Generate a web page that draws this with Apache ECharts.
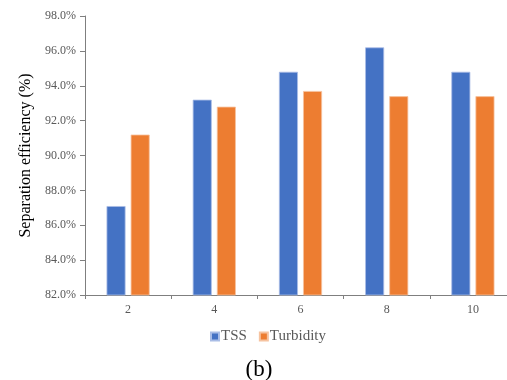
<!DOCTYPE html>
<html>
<head>
<meta charset="utf-8">
<script src="https://cdn.jsdelivr.net/npm/echarts@6/dist/echarts.min.js"></script>
<style>
  html, body { margin: 0; padding: 0; background: #fff; overflow: hidden; }
  /* 原图右侧被裁掉一截，画布比窗口稍宽 */
  #chart { width: 516px; height: 380px; }
</style>
</head>
<body>
<div id="chart"></div>
<script>
// 数据
const categories = ['2', '4', '6', '8', '10'];
const tssValues = [87.1, 93.2, 94.8, 96.2, 94.8];
const turbidityValues = [91.2, 92.8, 93.7, 93.4, 93.4];

const font = 'Liberation Serif';
const grayText = '#595959';

const myChart = echarts.init(document.getElementById('chart'));

const option = {
  backgroundColor: '#fff',
  animation: false,
  textStyle: { fontFamily: font },
  title: {
    text: '(b)',
    left: 254,
    top: 353,
    textAlign: 'center',
    textStyle: { fontFamily: font, fontSize: 23, fontWeight: 'normal', color: '#000' },
  },
  legend: {
    data: ['TSS', 'Turbidity'],
    left: 205,
    top: 324,
    itemWidth: 8,
    itemHeight: 8,
    itemGap: 12,
    icon: 'rect',
    textStyle: { fontFamily: font, fontSize: 15, color: grayText, padding: [0, 0, 0, -3] },
  },
  grid: {
    left: 85,
    top: 16,
    bottom: 85,
    right: 0,
    containLabel: false,
  },
  xAxis: {
    type: 'category',
    data: categories,
    axisLine: { lineStyle: { color: '#7f7f7f', width: 1 } },
    axisTick: { show: true, length: 4, lineStyle: { color: '#7f7f7f' } },
    axisLabel: { fontFamily: font, fontSize: 12, color: grayText, margin: 9 },
  },
  yAxis: {
    type: 'value',
    min: 82,
    max: 98,
    interval: 2,
    name: 'Separation efficiency (%)',
    nameLocation: 'middle',
    nameGap: 50,
    nameTextStyle: { fontFamily: font, fontSize: 16, color: '#000' },
    axisLine: { show: true, lineStyle: { color: '#7f7f7f', width: 1 } },
    axisTick: { show: true, length: 5, lineStyle: { color: '#7f7f7f' } },
    splitLine: { show: false },
    axisLabel: {
      fontFamily: font,
      fontSize: 12,
      color: grayText,
      margin: 9,
      formatter: (v) => v.toFixed(1) + '%',
    },
  },
  series: [
    {
      name: 'TSS',
      type: 'bar',
      data: tssValues,
      barWidth: 19,
      barGap: '27%',
      itemStyle: { color: '#4472C4', borderColor: '#a9bde6', borderWidth: 0.8 },
    },
    {
      name: 'Turbidity',
      type: 'bar',
      data: turbidityValues,
      barWidth: 19,
      barGap: '27%',
      itemStyle: { color: '#ED7D31', borderColor: '#f6c3a0', borderWidth: 0.8 },
    },
  ],
};

myChart.setOption(option);
</script>
</body>
</html>
